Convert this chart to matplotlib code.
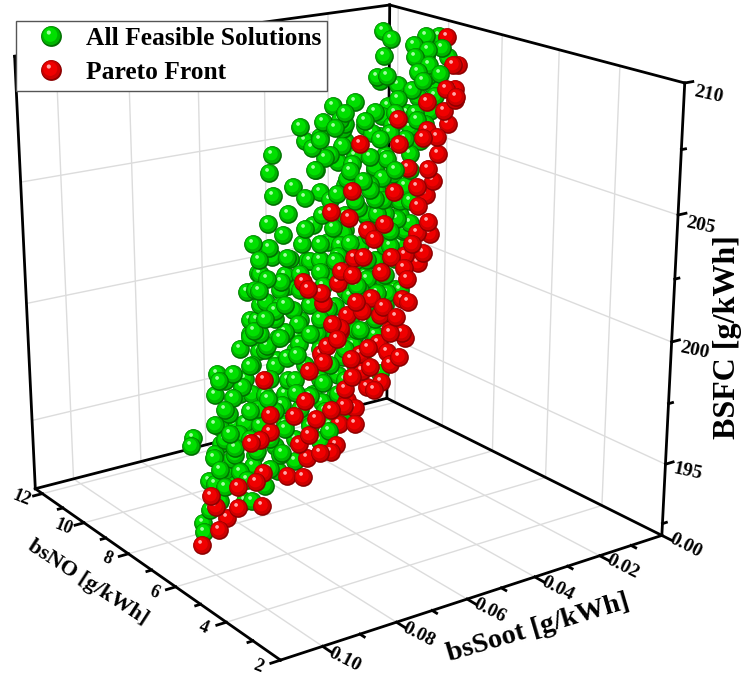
import numpy as np
import matplotlib

matplotlib.use("Agg")
import matplotlib.pyplot as plt
from matplotlib.legend_handler import HandlerTuple
from matplotlib.lines import Line2D
from matplotlib.path import Path
from mpl_toolkits.mplot3d import proj3d

plt.rcParams["font.family"] = ["Liberation Serif", "DejaVu Serif"]
plt.rcParams["font.weight"] = "bold"

XLIM = (2, 12.35)
YLIM = (0, 0.111)
ZLIM = (192, 210)
ELEV, AZIM, FOCAL = 18.514, 144.880, 0.521
BOX = (1, 0.985, 0.994)
SCALE, TX, TY = 4229.6, 340.9, 378.2
W_PX, H_PX = 750, 676

no_ticks = [12, 10, 8, 6, 4, 2]
soot_ticks = [0.00, 0.02, 0.04, 0.06, 0.08, 0.10]
bsfc_ticks = [195, 200, 205, 210]

# bsNO [g/kWh]
green_no = [7,9,6,8,10,7.5,11,8.5,9.5,6.5, 7,9,6,8,10,7.5,11,8.5,9.5,6.5, 7,9,6,8,10,7.5,11,8.5,9.5,6.5,
            7,9,6,8,10,7.5,11,8.5,9.5,6.5, 7,9,6,8,10,7.5,11,8.5,9.5,6.5, 7,9,6,8,10,7.5,11,8.5,9.5,6.5,
            7,9,6,8,10,7.5,11,8.5,9.5,6.5, 7,9,6,8,10,7.5,11,8.5,9.5,6.5, 7,9,6,8,10,7.5,11,8.5,9.5,6.5,
            7,9,6,8,10,7.5,11,8.5,9.5,6.5, 7,9,6,8,10,7.5,11,8.5,9.5,6.5, 7,9,6,8,10,7.5,11,8.5,9.5,6.5,
            7,9,6,8,10,7.5,11,8.5,9.5,6.5, 7,9,6,8,7.5,7.5, 8.5,8.5,11,10,9,10,10,10,8.5,8.5,8.5,8.5,9.5,7,
            7,9,6,8,10,7.5,11,8.5,9.5,6.5, 7,9,6,8,10,7.5,11,8.5,9.5,6.5, 7,9,6,8,10,7.5,11,8.5,9.5,6.5,
            7,9,6,8,10,7.5,11,8.5,9.5,6.5, 7,9,6,8,10,7.5,11,8.5,9.5,6.5, 7,9,6,8,10,7.5,11,8.5,9.5,6.5,
            7,9,6,8,10,7.5,11,8.5,9.5,6.5, 7,9,6,8,10,7.5,11,8.5,9.5,6.5, 7,9,6,8,10,7.5,11,8.5,9.5,6.5,
            7,9,6,8,10,7.5,11,8.5,9.5,6.5, 7,9,6,8,10,7.5,11,8.5,9.5,6.5, 7,9,6,8,10,7.5,11,8.5,9.5,6.5,
            7,9,6,8,10,7.5,11,8.5,9.5,6.5, 7,9,6,8,10,7.5,11,8.5,9.5,6.5, 7,9,6,8,10,7.5,11,8.5,9.5,6.5,
            7,9,6,8,10, 7.5,11,8.5,9.5,6.5,7,9,6,8,10,7.5,8.5,8.5,9.5,6.5,7,6,6,8,7.5,7.5,11,8.5,9.5,6.5,7]
# bsSoot, in 1e-4 g/kWh
green_soot_e4 = [557,312,492,270,57,518,185,299,162,363,628,403,535,300,88,562,217,320,161,679,542,311,491,283,326,
                 444,103,258,410,566,469,248,446,480,263,399,69,560,364,523,424,215,704,495,278,398,68,605,472,624,527,
                 310,489,728,511,649,313,441,301,478,812,599,760,554,326,473,134,286,623,765,658,433,576,357,618,722,
                 393,502,348,507,800,585,733,510,294,427,580,681,519,667,556,340,899,687,452,563,216,797,670,809,702,
                 480,633,860,651,753,442,548,396,934,831,617,762,540,325,895,599,698,552,697,601,766,902,704,485,593,
                 662,772,644,783,917,724,847,865,842,756,818,745,130,185,285,74,31,111,148,192,231,129,115,311,344,149,
                 363,387,217,397,79,238,89,370,402,178,377,514,295,533,111,255,251,538,618,408,661,610,403,614,374,451,
                 256,519,426,203,429,691,555,576,341,421,385,524,435,311,582,370,173,513,59,273,266,523,444,559,830,597,
                 403,542,427,667,463,557,590,408,699,323,139,424,179,365,552,850,771,534,872,651,378,538,371,516,587,
                 581,423,662,851,668,502,591,297,375,243,561,392,696,871,711,487,707,361,492,633,821,757,545,704,403,
                 619,694,462,527,509,551,432,387,542,282,108,483,146,375,359,657,818,689,816,616,410,746,521,720,573,
                 734,726,787,982,807,504,583,273,750,651,911,779,597,773,820,638,772,352,513,747,923,862,588,678,556,
                 792,963,644,833,714,909,814,618,812,631,700,827,719,645,782,938,843,1013,899,902,932,495,166,446,252,
                 614,660]
# BSFC above 190 g/kWh
green_bsfc_rel = [18.4,17.2,18.6,17.4,16.3,17.7,15.6,16.8,16.1,17.7,17.5,16.2,17.7,16.4,15.1,16.6,14.4,15.6,14.9,16.7,
                  16.1,14.8,16.4,15.1,13.8,15.1,12.8,14.2,13.6,15.2,14.8,13.4,15.1,13.8,12.4,13.8,11.4,13.2,12.2,13.9,
                  13.4,12.0,14.1,12.6,11.1,12.5,10.1,12.1,11.2,13.0,12.5,11.0,12.9,12.1,10.5,12.1,9.4,11.0,10.1,12.0,
                  12.2,10.6,12.5,10.9,9.3,10.9,8.2,9.9,9.8,11.7,11.1,9.4,11.3,9.7,8.9,10.5,7.7,9.3,8.3,10.3,10.4,8.7,
                  10.7,8.9,7.2,8.9,7.0,8.6,7.5,9.6,9.0,7.2,10.0,8.2,6.4,8.1,5.1,7.7,6.8,8.9,8.2,6.4,8.5,7.6,5.8,7.5,4.5,
                  6.2,5.1,8.1,7.4,5.5,7.8,5.8,3.9,6.8,3.7,5.5,4.4,6.6,6.0,4.8,7.1,5.2,3.2,5.0,2.6,4.5,3.4,5.7,5.3,3.3,
                  5.7,3.9,4.1,3.7,2.7,2.4,19.5,19.6,19.4,19.5,19.4,19.2,19.6,19.6,19.4,19.2,18.9,19.7,19.5,18.3,19.8,
                  19.1,17.9,19.3,17.1,18.1,17.6,19.4,18.6,17.5,19.0,18.2,17.2,17.9,16.3,17.2,16.7,18.2,18.2,16.7,18.4,
                  17.6,16.0,17.0,15.4,16.3,15.9,17.7,17.3,16.3,18.2,16.7,14.9,16.5,14.1,15.5,15.1,16.8,16.3,14.9,16.2,
                  15.0,13.9,15.5,12.9,13.6,13.6,15.5,14.7,14.7,16.3,14.8,13.7,15.0,12.4,13.7,12.7,14.9,14.0,12.4,15.2,
                  13.2,11.3,13.9,11.6,12.4,12.5,14.3,13.7,12.3,14.0,12.5,11.5,12.5,10.2,11.8,11.7,13.6,12.8,11.5,13.2,
                  11.6,10.0,12.0,9.6,10.6,9.8,11.8,10.9,10.8,12.8,10.9,8.9,11.0,8.3,9.7,9.2,11.3,11.2,9.0,11.2,8.8,8.3,
                  9.9,7.1,8.8,8.1,10.0,10.9,9.7,11.7,12.9,12.6,9.3,9.6,11.4,11.2,12.1,10.6,8.9,10.8,8.9,7.5,9.5,6.7,8.1,
                  7.3,9.6,9.2,7.7,9.7,8.3,5.9,7.4,4.8,7.3,6.1,8.5,7.7,5.7,8.5,6.7,4.5,7.0,4.2,5.8,5.0,7.1,6.6,4.6,6.6,
                  4.6,4.4,6.2,3.0,4.6,3.5,6.5,5.7,4.0,6.2,4.0,2.6,4.6,3.8,3.3,2.8,5.0,4.6,4.7,4.6,2.4,2.5,8.7,6.4,7.5,
                  5.6,7.6,6.3]

red_no = [8.5,6.5,6.5,5,4.5,5.5,3.5,2.5,4,6,3,5,4.5,5.5,3.5,2.5,4,6,3,5,4.5,5.5,3.5,2.5,4,6,3,
          5,4.5,5.5,3.5,2.5,4,6,3,5,4.5,5.5,3.5,2.5,4,6,3,5,4.5,5.5,3.5,2.5,4,6,3,5,4.5,5.5,3.5,
          2.5,4,6,5,5,4.5,5.5,6,6,6,6,5,5,5.5,5.5,4,4,4,6,3,5,4.5,5.5,3.5,2.5,4,6,5,5,4.5,5.5,
          3.5,2.5,4,6,3,5,4.5,5.5,3.5,2.5,4,6,3,5,4.5,5.5,3.5,2.5,4,6,3,5,4.5,5.5,3.5,2.5,4,6,3,
          5,4.5,5.5]
red_soot_e4 = [133,281,266,429,444,361,685,865,641,452,646,462,551,442,628,684,591,386,687,488,582,
               461,665,739,662,522,736,691,787,662,768,828,689,607,816,722,730,692,935,996,851,697,
               835,638,642,509,653,768,742,628,897,724,651,542,671,700,538,336,434,483,446,407,401,
               1036,990,967,1007,940,1031,1044,1074,1027,1009,799,976,816,874,698,921,968,826,846,944,
               969,952,815,932,979,824,650,836,683,751,667,825,826,688,570,846,693,679,624,703,758,
               672,536,802,668,580,503,703,924,846,703,957,932,799,686]
red_bsfc_rel = [20.0,19.8,19.8,19.7,19.6,19.4,19.7,19.6,18.5,16.4,18.0,16.3,16.5,15.5,16.4,16.4,15.1,
                13.6,15.4,13.6,14.0,12.9,14.2,14.5,14.4,14.4,17.4,16.5,16.2,15.2,15.9,16.2,13.9,13.3,
                15.3,13.6,13.7,12.8,14.5,14.9,13.6,11.8,13.7,12.3,12.2,11.6,12.9,13.2,12.6,11.1,13.1,
                11.4,11.9,10.5,11.8,19.4,18.5,17.8,18.9,18.3,19.5,17.0,18.8,3.4,3.8,4.2,5.4,5.2,5.2,
                5.7,7.1,7.1,7.4,5.2,7.7,6.6,7.7,6.4,8.8,8.9,7.5,7.2,7.8,7.8,9.1,8.0,10.1,10.2,9.1,6.8,
                9.2,8.1,8.7,8.1,10.2,10.7,9.7,8.0,11.0,10.1,10.0,9.1,10.7,11.7,10.8,9.7,11.9,10.2,10.8,
                10.2,11.9,12.9,11.0,9.8,11.6,10.1,11.2,10.9]

green_soot = np.array(green_soot_e4) / 1e4
red_soot = np.array(red_soot_e4) / 1e4
green_bsfc = 190 + np.array(green_bsfc_rel)
red_bsfc = 190 + np.array(red_bsfc_rel)

fig = plt.figure(figsize=(7.5, 6.76), dpi=100)
ax = fig.add_subplot(projection="3d")
ax.computed_zorder = False
ax.set_xlim(*XLIM)
ax.set_ylim(*YLIM)
ax.set_zlim(*ZLIM)
ax.view_init(elev=ELEV, azim=AZIM)
ax.set_proj_type("persp", focal_length=FOCAL)
ax.set_box_aspect(BOX)
ax.set_axis_off()
ax.autoscale(False)
vl = ax.viewLim
ax.set_position([(TX + SCALE * vl.x0) / W_PX, (TY + SCALE * vl.y0) / H_PX,
                 SCALE * vl.width / W_PX, SCALE * vl.height / H_PX])


# --- box, grid and ticks -----------------------------------------------------
def seg(x, y, z, **kw):
    ax.plot(x, y, z, solid_capstyle="projecting", **kw)


def label(x, y, z, s, size, rot):
    u, v, _ = proj3d.proj_transform(x, y, z, ax.get_proj())
    ax.text2D(u, v, s, transform=ax.transData, fontsize=size, rotation=rot, ha="center", va="center",
              rotation_mode="anchor", zorder=4)


GRID = dict(color="#dcdcdc", lw=1.0, zorder=1)
EDGE = dict(color="black", lw=2.0, zorder=3)
x0, x1 = XLIM
y0, y1 = YLIM
z0, z1 = ZLIM
for n in no_ticks[:-1]:
    seg([n, n], [y0, y1], [z0, z0], **GRID)
    seg([n, n], [y0, y0], [z0, z1], **GRID)
for t in soot_ticks[1:]:
    seg([x0, x1], [t, t], [z0, z0], **GRID)
    seg([x1, x1], [t, t], [z0, z1], **GRID)
for b in bsfc_ticks[:-1]:
    seg([x1, x1], [y0, y1], [b, b], **GRID)
    seg([x0, x1], [y0, y0], [b, b], **GRID)

seg([x0, x1], [y1, y1], [z0, z0], **EDGE)
seg([x0, x0], [y0, y1], [z0, z0], **EDGE)
seg([x1, x1], [y0, y1], [z0, z0], **EDGE)
seg([x0, x1], [y0, y0], [z0, z0], **EDGE)
seg([x1, x1], [y1, y1], [z0, z1], **EDGE)
seg([x1, x1], [y0, y0], [z0, z1], **EDGE)
seg([x0, x0], [y0, y0], [z0, z1], **EDGE)
seg([x1, x1], [y0, y1], [z1, z1], **EDGE)
seg([x0, x1], [y0, y0], [z1, z1], **EDGE)

for n in no_ticks:
    seg([n, n], [y1, y1 + 0.0025], [z0, z0], **EDGE)
    label(n, y1 + 0.0058, z0 + 0.05, str(n), 13, -22)
for n in range(3, 12, 2):
    seg([n, n], [y1, y1 + 0.0013], [z0, z0], **EDGE)
for t in soot_ticks:
    seg([x0, x0 - 0.3], [t, t], [z0, z0], **EDGE)
    label(x0 - 0.75, t, z0 + 0.05, f"{t:.2f}", 14, -27)
for t in (0.01, 0.03, 0.05, 0.07, 0.09):
    seg([x0, x0 - 0.15], [t, t], [z0, z0], **EDGE)
for b in bsfc_ticks:
    seg([x0, x0], [y0, y0 - 0.0025], [b, b], **EDGE)
    label(x0, y0 - 0.0075, b - 0.6, str(b), 14, -12)
for b in (192.5, 197.5, 202.5, 207.5):
    seg([x0, x0], [y0, y0 - 0.0013], [b, b], **EDGE)


# --- shaded spheres ----------------------------------------------------------
def blob(r, cx, cy):
    # the two stray segments keep every layer at the same marker scale
    c = Path.unit_circle()
    v = c.vertices * r + (cx, cy)
    verts = np.vstack([v, [[1, 1], [1, 1], [-1, -1], [-1, -1]]])
    codes = np.concatenate([c.codes, [Path.MOVETO, Path.LINETO, Path.MOVETO, Path.LINETO]])
    return Path(verts, codes)


LAYERS = [blob(1, 0, 0), blob(0.9, -0.05, 0.07), blob(0.68, -0.12, 0.16), blob(0.2, -0.26, 0.38)]
GREENS = ["#006f00", "#00b400", "#00e000", "#a0ffa0"]
REDS = ["#8c0000", "#cc0000", "#f00000", "#ffa8a8"]
BALL = 13.5

pts = [(a, b, c, GREENS) for a, b, c in zip(green_no, green_soot, green_bsfc)]
pts += [(a, b, c, REDS) for a, b, c in zip(red_no, red_soot, red_bsfc)]
az = np.radians(AZIM)


def closeness(p):
    return np.cos(az) * (p[0] - x0) / (x1 - x0) + np.sin(az) * p[1] / y1 + 0.33 * (p[2] - z0) / (z1 - z0)


# back to front, so a near sphere covers the highlight of the one behind it
for i, p in enumerate(sorted(pts, key=closeness)):
    for path, col in zip(LAYERS, p[3]):
        ax.plot([p[0]], [p[1]], [p[2]], ls="", marker=path, ms=BALL, mfc=col, mew=0, zorder=10 + i)

# --- labels and legend -------------------------------------------------------
fig.text(88 / W_PX, 1 - 583 / H_PX, "bsNO [g/kWh]", fontsize=16, rotation=-33, ha="center", va="center",
         rotation_mode="anchor")
fig.text(538 / W_PX, 1 - 628 / H_PX, "bsSoot [g/kWh]", fontsize=20.5, rotation=16.5, ha="center", va="center",
         rotation_mode="anchor")
fig.text(728 / W_PX, 1 - 337 / H_PX, "BSFC [g/kWh]", fontsize=23, rotation=90, ha="center", va="center",
         rotation_mode="anchor")


def handle(cols):
    return tuple(Line2D([], [], ls="", marker=path, ms=15, mfc=c, mew=0) for path, c in zip(LAYERS, cols))


fig.legend([handle(GREENS), handle(REDS)], ["All Feasible Solutions", "Pareto Front"],
           handler_map={tuple: HandlerTuple(ndivide=1, pad=0)}, loc="upper left",
           bbox_to_anchor=(16 / W_PX, 1 - 21 / H_PX), borderaxespad=0, fontsize=18.4, fancybox=False,
           framealpha=1, edgecolor="#555555", borderpad=0.25, labelspacing=0.42, handlelength=2.2, handletextpad=0.27)

fig.savefig("out.png", dpi=100)
